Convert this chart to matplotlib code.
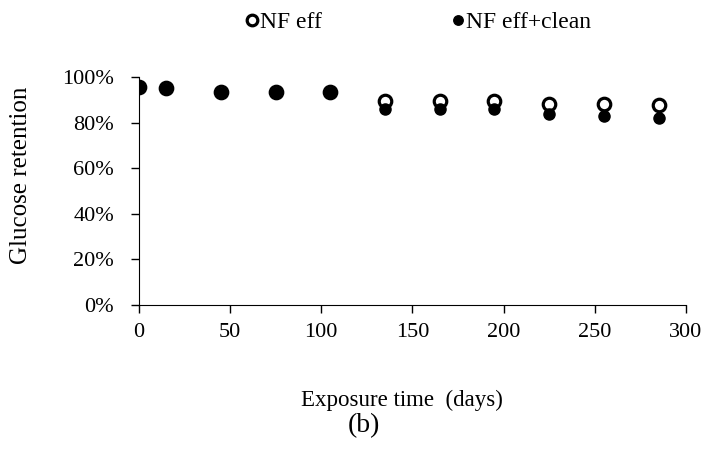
import matplotlib
matplotlib.use('Agg')
import matplotlib.pyplot as plt
from matplotlib.ticker import PercentFormatter

plt.rcParams['font.family'] = ['Liberation Serif', 'DejaVu Serif']

# Data
days = [0, 15, 45, 75, 105, 135, 165, 195, 225, 255, 285]
nf_eff = [95.8, 95.3, 93.4, 93.4, 93.5, 89.8, 89.8, 89.8, 88.5, 88.5, 87.8]
nf_eff_clean = [95.6, 95.0, 93.2, 93.3, 93.3, 86.3, 85.9, 85.9, 83.7, 83.0, 82.3]

fig = plt.figure(figsize=(7.05, 4.55), dpi=100)
ax = fig.add_axes([0.197, 0.330, 0.776, 0.500])

ax.plot(days, nf_eff, 'o', mfc='white', mec='black', mew=2.3, ms=9,
        label='NF eff', zorder=3)
ax.plot(days, nf_eff_clean, 'o', color='black', ms=8,
        label='NF eff+clean', zorder=4)

ax.set_xlim(0, 300)
ax.set_ylim(0, 100)
ax.set_xticks(range(0, 301, 50))
ax.set_yticks(range(0, 101, 20))
ax.yaxis.set_major_formatter(PercentFormatter(decimals=0))
ax.spines['top'].set_visible(False)
ax.spines['right'].set_visible(False)
ax.tick_params(direction='out', length=6, width=1.0, labelsize=16)
ax.tick_params(axis='y', pad=12)
ax.tick_params(axis='x', pad=7)

fig.text(0.030, 0.615, 'Glucose retention', fontsize=18, rotation=90,
         ha='center', va='center')
fig.text(0.570, 0.119, 'Exposure time  (days)', fontsize=16.5,
         ha='center', va='center')
fig.text(0.516, 0.064, '(b)', fontsize=20, ha='center', va='center')

leg = fig.legend(loc='upper center', bbox_to_anchor=(0.588, 1.021), ncol=2,
                 frameon=False, fontsize=17, handletextpad=-0.25,
                 columnspacing=5.15, handlelength=1.2, markerscale=0.85)

fig.savefig('out.png', dpi=100)
